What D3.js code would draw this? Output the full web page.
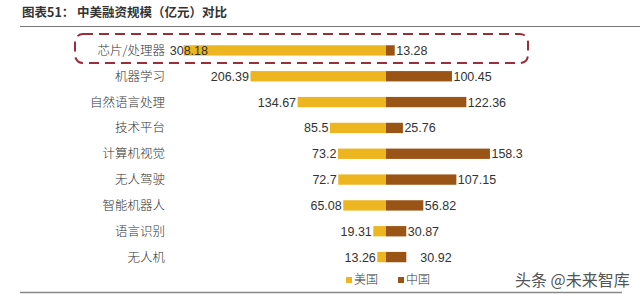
<!DOCTYPE html>
<html>
<head>
<meta charset="utf-8">
<script src="https://cdn.jsdelivr.net/npm/d3@7"></script>
<style>
  body { margin: 0; background: #fff; }
  svg { display: block; }
</style>
</head>
<body>
<div id="chart"></div>
<script>
// data
const categories = ["芯片/处理器", "机器学习", "自然语言处理", "技术平台", "计算机视觉", "无人驾驶", "智能机器人", "语言识别", "无人机"]
const usValues = [308.18, 206.39, 134.67, 85.5, 73.2, 72.7, 65.08, 19.31, 13.26]
const cnValues = [13.28, 100.45, 122.36, 25.76, 158.3, 107.15, 56.82, 30.87, 30.92]
const seriesNames = ["美国", "中国"]

const width = 640
const height = 294
const center = 386
const colors = { us: "#EDB520", cn: "#9A5416" }

const svg = d3.select("#chart")
    .append("svg")
      .attr("width", width)
      .attr("height", height)

// scales
const xUS = d3.scaleLinear().domain([0, 300]).range([center, center - 197])
const xCN = d3.scaleLinear().domain([0, 300]).range([center, center + 197])
const y = d3.scaleBand()
    .domain(categories)
    .range([37.5, 270])
    .paddingInner(0.6)
    .paddingOuter(0.3)

// title
svg.append("text")
    .attr("x", 22).attr("y", 17)
    .attr("font-family", "Noto Sans CJK SC")
    .attr("font-weight", "bold")
    .attr("font-size", 12.5)
    .attr("fill", "#333")
    .text("图表51：   中美融资规模（亿元）对比")
svg.append("line")
    .attr("x1", 20).attr("x2", 640)
    .attr("y1", 26.5).attr("y2", 26.5)
    .attr("stroke", "#777").attr("stroke-width", 1)
svg.append("line")
    .attr("x1", 20).attr("x2", 622)
    .attr("y1", 292.5).attr("y2", 292.5)
    .attr("stroke", "#888").attr("stroke-width", 1.5)

const g = svg.append("g")

const rows = categories.map((c, i) => ({ cat: c, us: usValues[i], cn: cnValues[i] }))

// US bars
g.selectAll(".us").data(rows).enter().append("rect")
    .attr("class", "us")
    .attr("x", d => xUS(d.us))
    .attr("y", d => y(d.cat))
    .attr("width", d => center - xUS(d.us))
    .attr("height", y.bandwidth())
    .attr("fill", colors.us)

// China bars
g.selectAll(".cn").data(rows).enter().append("rect")
    .attr("class", "cn")
    .attr("x", center)
    .attr("y", d => y(d.cat))
    .attr("width", d => xCN(d.cn) - center)
    .attr("height", y.bandwidth())
    .attr("fill", colors.cn)

// category labels
g.selectAll(".cat").data(rows).enter().append("text")
    .attr("class", "cat")
    .attr("x", 165)
    .attr("y", d => y(d.cat) + y.bandwidth() / 2)
    .attr("dy", "0.36em")
    .attr("text-anchor", "end")
    .attr("font-family", "Noto Sans CJK SC")
    .attr("font-weight", 300)
    .attr("font-size", 12.5)
    .attr("fill", "#333")
    .text(d => d.cat)

// value labels
g.selectAll(".usv").data(rows).enter().append("text")
    .attr("class", "usv")
    .attr("x", d => Math.max(xUS(d.us) - 1.5, 208))
    .attr("y", d => y(d.cat) + y.bandwidth() / 2)
    .attr("dy", "0.36em")
    .attr("text-anchor", "end")
    .attr("font-family", "Liberation Sans, Arial")
    .attr("font-size", 12.5)
    .attr("fill", "#333")
    .text(d => d.us)

g.selectAll(".cnv").data(rows).enter().append("text")
    .attr("class", "cnv")
    .attr("x", d => xCN(d.cn) + (d.cat === "无人机" ? 14 : 1.5))
    .attr("y", d => y(d.cat) + y.bandwidth() / 2)
    .attr("dy", "0.36em")
    .attr("font-family", "Liberation Sans, Arial")
    .attr("font-size", 12.5)
    .attr("fill", "#333")
    .text(d => d.cn)

// highlight box
svg.append("rect")
    .attr("x", 75).attr("y", 34)
    .attr("width", 453).attr("height", 29)
    .attr("rx", 8)
    .attr("fill", "none")
    .attr("stroke", "#9A2F3A")
    .attr("stroke-width", 2)
    .attr("stroke-dasharray", "10,6")

// legend
const legend = svg.append("g").attr("transform", "translate(346, 280)")
seriesNames.forEach((name, i) => {
    const lg = legend.append("g").attr("transform", `translate(${i * 52}, 0)`)
    lg.append("rect")
        .attr("x", 0).attr("y", -3)
        .attr("width", 6).attr("height", 6)
        .attr("fill", i === 0 ? colors.us : colors.cn)
    lg.append("text")
        .attr("x", 8).attr("y", 0)
        .attr("dy", "0.36em")
        .attr("font-family", "Noto Sans CJK SC")
        .attr("font-weight", 300)
        .attr("font-size", 12)
        .attr("fill", "#333")
        .text(name)
})

// watermark
svg.append("text")
    .attr("x", 515).attr("y", 280)
    .attr("dy", "0.36em")
    .attr("font-family", "Noto Sans CJK SC")
    .attr("font-size", 16)
    .attr("fill", "#555")
    .text("头条 @未来智库")
</script>
</body>
</html>
